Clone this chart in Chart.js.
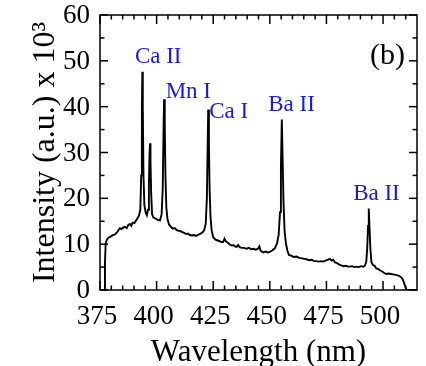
<!DOCTYPE html>
<html>
<head>
<meta charset="utf-8">
<script src="https://cdn.jsdelivr.net/npm/chart.js@4/dist/chart.umd.min.js"></script>
<style>
  body { margin: 0; background: #fff; }
  canvas { display: block; }
</style>
</head>
<body>
<canvas id="grafico" width="426" height="366"></canvas>
<script>
// Espectro: longitud de onda (nm) e intensidad (x 10^3)
const longitudes = [
  375, 377.0, 377.2, 377.5, 378.0, 378.7, 379.5, 380.5, 381.5, 382.4, 383.2, 383.8, 384.5, 385.2,
  386.0, 386.8, 387.5, 388.2, 388.8, 389.4, 390.2, 391.2, 392.2, 392.8, 393.2, 393.5, 393.7, 393.9,
  394.2, 394.6, 395.2, 395.7, 396.2, 396.6, 396.9, 397.1, 397.3, 397.6, 398.0, 398.6, 399.5, 400.5,
  401.5, 402.2, 402.7, 403.0, 403.3, 403.6, 403.9, 404.3, 404.8, 405.5, 406.3, 407.2, 408.0, 408.8,
  409.6, 410.5, 411.3, 412.0, 413.0, 413.8, 414.7, 415.6, 416.5, 417.5, 418.5, 419.5, 420.3, 421.0,
  421.7, 422.2, 422.5, 422.8, 423.1, 423.4, 423.8, 424.3, 425.0, 426.0, 427.0, 428.0, 428.8, 429.4,
  430.0, 430.6, 431.5, 432.4, 433.3, 434.0, 434.6, 435.3, 436.0, 436.8, 437.8, 438.8, 439.7, 440.8,
  441.7, 442.7, 443.8, 444.8, 445.4, 445.9, 447.1, 448.2, 449.2, 450.0, 451.0, 452.2, 453.2, 453.9,
  454.5, 454.9, 455.3, 455.6, 456.0, 456.5, 457.1, 457.8, 458.5, 459.5, 460.5, 461.8, 463.0, 464.2,
  465.2, 466.2, 467.3, 468.5, 469.5, 470.6, 471.6, 472.6, 473.6, 474.6, 475.5, 476.5, 477.3, 478.0,
  478.8, 479.5, 480.5, 481.5, 482.4, 483.5, 484.5, 485.3, 486.3, 487.3, 488.3, 489.3, 490.3, 491.3,
  492.0, 492.6, 493.0, 493.4, 493.7, 494.0, 494.4, 494.9, 495.6, 496.3, 497.0, 497.8, 498.6, 499.5,
  500.5, 501.5, 502.5, 503.5, 504.5, 505.5, 506.5, 507.4, 508.2, 508.8, 509.4, 510.0, 510.4, 515
];
const intensidades = [
  0, 0, 6, 10.2, 10.9, 11.4, 11.6, 11.9, 12.1, 12.5, 13.1, 13.5, 13.3, 13.6,
  13.8, 13.5, 14.2, 14.4, 14.0, 14.7, 14.6, 15.4, 16.2, 17.5, 25, 40, 47.6, 40,
  25, 18.5, 16.8, 16.3, 17.5, 23, 30, 32.0, 28, 21, 16.5, 15.8, 15.6, 15.3,
  15.2, 16.5, 22, 33, 41.6, 36, 25, 18, 15.5, 14.3, 13.8, 13.4, 13.5, 13.1,
  12.9, 12.9, 12.6, 12.5, 12.2, 12.3, 12.0, 11.9, 12.0, 11.8, 12.1, 12.3, 12.6, 13.0,
  14.5, 20, 30, 39.4, 32, 22, 16, 13, 11.5, 11.0, 10.8, 10.6, 10.4, 10.5,
  11.2, 10.6, 10.3, 9.9, 9.7, 9.8, 9.5, 9.4, 9.8, 9.3, 9.2, 9.2, 9.0, 9.2,
  8.9, 9.0, 8.8, 9.0, 9.5, 8.6, 8.2, 8.4, 8.2, 8.3, 8.6, 9.1, 10.2, 12,
  17, 27, 37.2, 30, 20, 13, 10.2, 8.5, 7.6, 7.5, 7.2, 7.3, 7.0, 6.9,
  6.8, 6.7, 6.5, 6.6, 6.3, 6.3, 6.2, 6.3, 6.2, 6.4, 6.6, 6.8, 6.4, 6.6,
  6.0, 5.9, 5.6, 5.4, 5.2, 5.3, 5.1, 5.1, 5.2, 5.0, 5.1, 5.0, 5.2, 5.1,
  5.3, 6.2, 9, 14, 17.8, 14, 9, 6.0, 5.4, 5.3, 4.7, 4.6, 4.3, 4.1,
  3.7, 3.5, 3.6, 3.5, 3.4, 3.3, 3.2, 3.0, 2.7, 2.2, 1.4, 0.5, 0, 0
];

// Lineas identificadas (texto azul) y su posicion en unidades de los ejes
const nombresLineas = ["Ca II", "Mn I", "Ca I", "Ba II", "Ba II"];
const lineasX = [400.7, 414.0, 431.8, 459.6, 497.1];
const lineasY = [49.5, 41.8, 37.6, 39.0, 19.6];

const ticksX = [375, 400, 425, 450, 475, 500];
const ticksY = [0, 10, 20, 30, 40, 50, 60];

const fuente = "'Liberation Serif', 'Times New Roman', serif";
const canvasGrafico = document.querySelector("#grafico");

// Marco, marcas hacia dentro y rotulos de las lineas
const marcasInternas = {
  id: "marcasInternas",
  afterDraw(chart) {
    const { ctx, chartArea: a, scales: { x, y } } = chart;
    ctx.save();
    ctx.strokeStyle = "#000";
    ctx.lineWidth = 1.5;
    ctx.strokeRect(a.left, a.top, a.right - a.left, a.bottom - a.top);

    const raya = (x1, y1, x2, y2) => {
      ctx.beginPath();
      ctx.moveTo(x1, y1);
      ctx.lineTo(x2, y2);
      ctx.stroke();
    };
    for (let v = 375; v < 515; v += 5) {
      const px = x.getPixelForValue(v);
      const largo = ticksX.includes(v) ? 9 : 4.5;
      raya(px, a.bottom, px, a.bottom - largo);
      raya(px, a.top, px, a.top + largo);
    }
    for (let v = 0; v <= 60; v += 5) {
      const py = y.getPixelForValue(v);
      const largo = ticksY.includes(v) ? 8 : 4.5;
      raya(a.left, py, a.left + largo, py);
      raya(a.right, py, a.right - largo, py);
    }

    ctx.fillStyle = "#1818ee";
    ctx.font = "23px " + fuente;
    ctx.textAlign = "center";
    ctx.textBaseline = "alphabetic";
    nombresLineas.forEach((nombre, i) => {
      ctx.fillText(nombre, x.getPixelForValue(lineasX[i]), y.getPixelForValue(lineasY[i]));
    });

    ctx.fillStyle = "#000";
    ctx.font = "30px " + fuente;
    ctx.fillText("(b)", x.getPixelForValue(502), y.getPixelForValue(49.4));
    ctx.restore();
  }
};

const configuracion = {
  type: "line",
  data: {
    datasets: [{
      data: longitudes.map((l, i) => ({ x: l, y: intensidades[i] })),
      borderColor: "#000",
      borderWidth: 1.9,
      pointRadius: 0,
      tension: 0,
      fill: false
    }]
  },
  options: {
    responsive: false,
    animation: false,
    layout: { padding: { top: 15, right: 9, left: 0, bottom: 0 } },
    plugins: { legend: { display: false }, tooltip: { enabled: false } },
    scales: {
      x: {
        type: "linear",
        min: 375,
        max: 515,
        afterFit: (s) => { s.height = 76; s.paddingLeft = 0; s.paddingRight = 0; },
        afterBuildTicks: (s) => { s.ticks = ticksX.map(v => ({ value: v })); },
        grid: { display: false, drawTicks: false },
        border: { display: false },
        ticks: {
          color: "#000",
          font: { family: fuente, size: 27 },
          padding: 11,
          labelOffset: -3,
          maxRotation: 0,
          autoSkip: false
        },
        title: {
          display: true,
          text: "Wavelength (nm)",
          color: "#000",
          font: { family: fuente, size: 31, lineHeight: 1 },
          padding: { top: 0, bottom: -2 }
        }
      },
      y: {
        min: 0,
        max: 60,
        afterFit: (s) => { s.width = 100; s.paddingTop = 0; s.paddingBottom = 0; },
        afterBuildTicks: (s) => { s.ticks = ticksY.map(v => ({ value: v })); },
        grid: { display: false, drawTicks: false },
        border: { display: false },
        ticks: {
          color: "#000",
          font: { family: fuente, size: 27 },
          padding: 10,
          labelOffset: 1
        },
        title: {
          display: true,
          text: "Intensity (a.u.) x 10³",
          color: "#000",
          font: { family: fuente, size: 32, lineHeight: 1 },
          padding: { top: 30, bottom: 0 }
        }
      }
    }
  },
  plugins: [marcasInternas]
};

const graficoEspectro = new Chart(canvasGrafico, configuracion);
</script>
</body>
</html>
